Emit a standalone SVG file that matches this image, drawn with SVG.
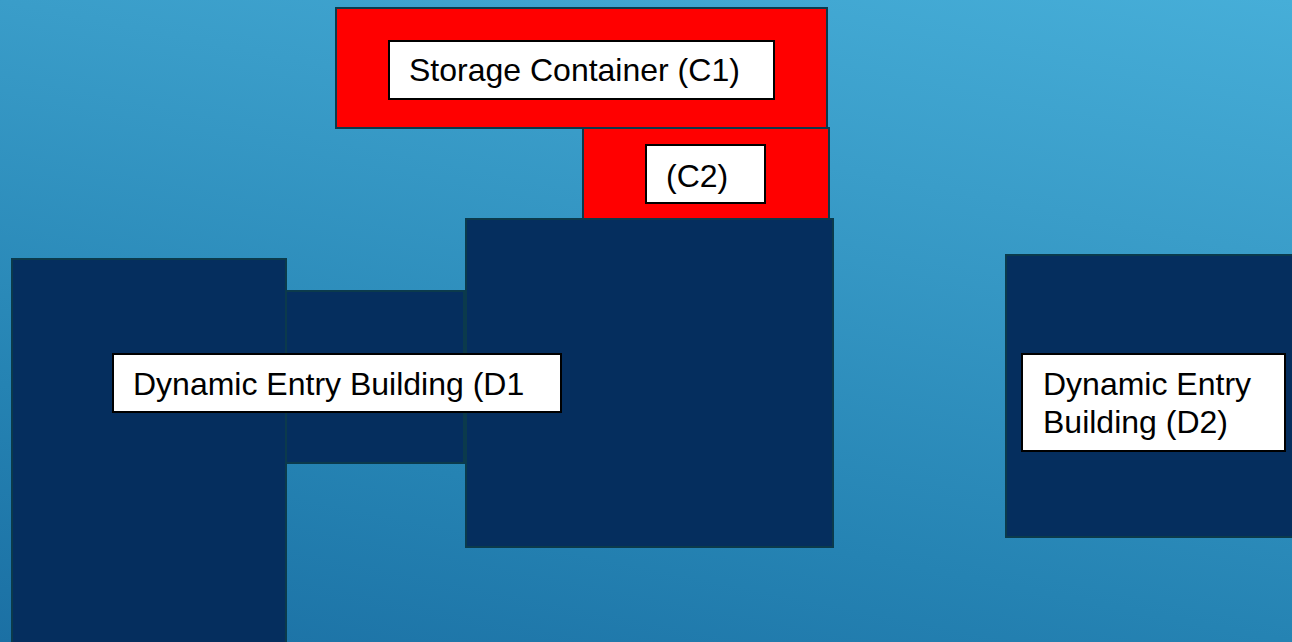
<svg xmlns="http://www.w3.org/2000/svg" width="1292" height="642" viewBox="0 0 1292 642">
  <defs>
    <linearGradient id="bg" gradientUnits="userSpaceOnUse" x1="49.7" y1="-248.5" x2="-123.5" y2="617.3">
      <stop offset="0" stop-color="#46aed8"/>
      <stop offset="0.287" stop-color="#3a9dc9"/>
      <stop offset="0.713" stop-color="#2583b3"/>
      <stop offset="1" stop-color="#1b70a4"/>
    </linearGradient>
    <style>
      .bld { fill: #052e5e; stroke: #0b3a4c; stroke-width: 2; }
      .cont { fill: #ff0000; stroke: #0b3a4c; stroke-width: 2; }
      .lbl { fill: #ffffff; stroke: #000000; stroke-width: 2; }
      .txt { font-family: "Liberation Sans", Arial, sans-serif; font-size: 32px; fill: #000000; }
    </style>
  </defs>
  <rect x="0" y="0" width="1292" height="642" fill="url(#bg)"/>
  <g id="C1">
    <rect class="cont" x="336" y="8" width="491" height="120"/>
    <rect class="lbl" x="389" y="41" width="385" height="58"/>
    <text class="txt" x="409" y="81">Storage Container (C1)</text>
  </g>
  <g id="C2">
    <rect class="cont" x="583" y="128" width="246" height="92"/>
    <rect class="lbl" x="646" y="145" width="119" height="58"/>
    <text class="txt" x="666" y="187">(C2)</text>
  </g>
  <g id="D1">
    <rect class="bld" x="12" y="259" width="274" height="390"/>
    <rect class="bld" x="286" y="291" width="178" height="172"/>
    <rect class="bld" x="466" y="219" width="367" height="328"/>
    <rect class="lbl" x="113" y="354" width="448" height="58"/>
    <text class="txt" x="133" y="395">Dynamic Entry Building (D1</text>
  </g>
  <g id="D2">
    <rect class="bld" x="1006" y="255" width="300" height="282"/>
    <rect class="lbl" x="1022" y="354" width="263" height="97"/>
    <text class="txt" x="1043" y="395">Dynamic Entry</text>
    <text class="txt" x="1043" y="433">Building (D2)</text>
  </g>
  <g id="connectors"></g>
</svg>
